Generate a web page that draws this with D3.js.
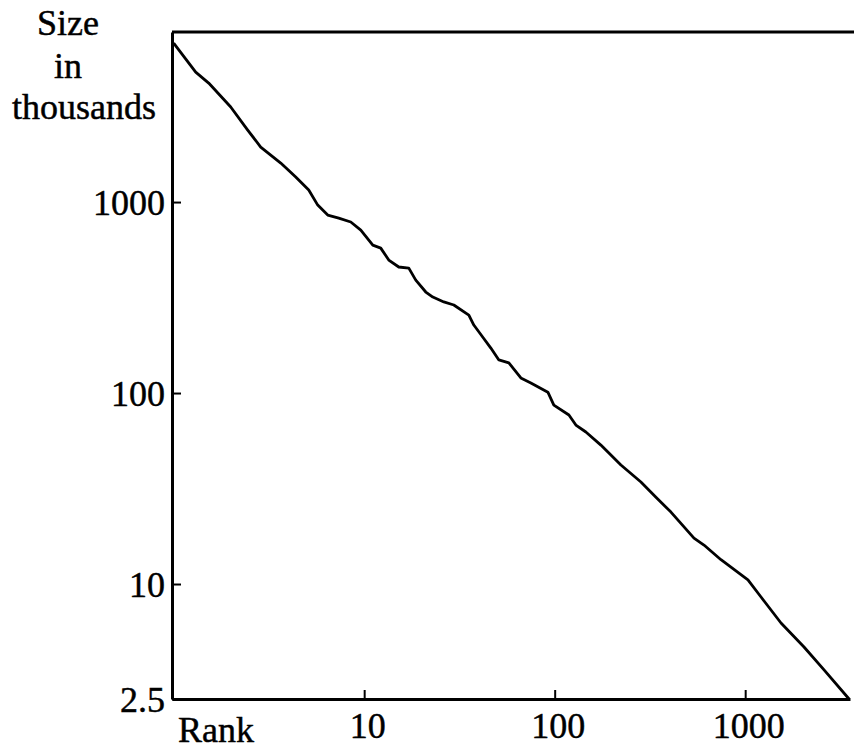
<!DOCTYPE html>
<html>
<head>
<meta charset="utf-8">
<script src="https://cdn.jsdelivr.net/npm/d3@7"></script>
<style>
  html, body { margin: 0; padding: 0; background: #fff; }
  svg { display: block; }
  text { font-family: "Liberation Serif", "Times New Roman", serif; fill: #000; stroke: #000; stroke-width: 0.45px; }
</style>
</head>
<body>
<svg id="chart" width="854" height="751"></svg>
<script>
// Rank-size distribution of cities (log-log): rank vs population in thousands
const ranks = [1, 1.305, 1.527, 1.993, 2.447, 2.863, 3.648, 4.373, 5.117, 5.705,
  6.437, 7.355, 8.506, 9.6, 11.1, 12.22, 13.46, 15.19, 17.15, 18.66,
  21.06, 22.93, 26.19, 29.55, 35.43, 37.63, 41.97, 46.23, 50.93, 57.47,
  66.44, 74.99, 92.1, 99.0, 118.8, 129.2, 145.8, 174.8, 222.7, 283.6,
  340.1, 407.7, 538.5, 607.6, 746.3, 1034, 1211, 1542, 2036, 2594, 3510];
const sizes = [6800, 4793, 4198, 3144, 2382, 1941, 1600, 1352, 1156, 964,
  855, 824, 786, 713, 595, 574, 497, 457, 451, 390,
  338, 318, 300, 289, 256, 227, 196, 172, 149, 144,
  120, 113, 101, 86.5, 76.7, 68.0, 62.5, 53.4, 42.0, 34.2,
  28.5, 23.8, 17.4, 16.0, 13.4, 10.5, 8.55, 6.25, 4.68, 3.55, 2.5];

const xTicks = [10, 100, 1000];
const yTicks = [2.5, 10, 100, 1000];
const yTickLabels = ["2.5", "10", "100", "1000"];
const yTitle = ["Size", "in", "thousands"];
const xTitle = "Rank";

const svg = d3.select("#chart");
const plotLeft = 172, plotRight = 850, plotTop = 32, plotBottom = 699;

const x = d3.scaleLog().domain([0.98, 3550]).range([plotLeft, plotRight]);
const y = d3.scaleLog().domain([2.5, 7770]).range([plotBottom, plotTop]);

const points = ranks.map((r, i) => ({ r, s: sizes[i] }));

// top frame line
svg.append("line")
  .attr("x1", plotLeft).attr("x2", 854)
  .attr("y1", plotTop).attr("y2", plotTop)
  .attr("stroke", "#000").attr("stroke-width", 3);

// x axis with inward ticks
const gx = svg.append("g")
  .attr("transform", `translate(0,${plotBottom})`)
  .call(d3.axisBottom(x).tickValues(xTicks).tickFormat(d3.format("d"))
    .tickSizeInner(-9).tickSizeOuter(0).tickPadding(9));

// y axis with inward ticks
const gy = svg.append("g")
  .attr("transform", `translate(${plotLeft},0)`)
  .call(d3.axisLeft(y).tickValues(yTicks)
    .tickFormat((d, i) => yTickLabels[i])
    .tickSizeInner(-9).tickSizeOuter(0).tickPadding(7));

[gx, gy].forEach(g => {
  g.select(".domain").attr("stroke", "#000").attr("stroke-width", 3);
  g.selectAll(".tick line").attr("stroke", "#000").attr("stroke-width", 2);
  g.selectAll(".tick text")
    .style("font-family", "'Liberation Serif', serif")
    .style("font-size", "36px");
});
gx.selectAll(".tick text").attr("dy", "0.82em").attr("dx", 3);
gy.selectAll(".tick text").attr("dy", "0.34em");

// size-rank curve
svg.append("path")
  .datum(points)
  .attr("fill", "none")
  .attr("stroke", "#000")
  .attr("stroke-width", 2.8)
  .attr("stroke-linejoin", "round")
  .attr("d", d3.line().x(d => x(d.r)).y(d => y(d.s)));

// titles
const titlePos = [[68, 35], [68, 78], [84, 119]];
yTitle.forEach((t, i) => {
  svg.append("text")
    .attr("x", titlePos[i][0]).attr("y", titlePos[i][1])
    .attr("text-anchor", "middle")
    .style("font-size", "36px")
    .text(t);
});
svg.append("text")
  .attr("x", 178).attr("y", 742)
  .style("font-size", "36px")
  .text(xTitle);
</script>
</body>
</html>
